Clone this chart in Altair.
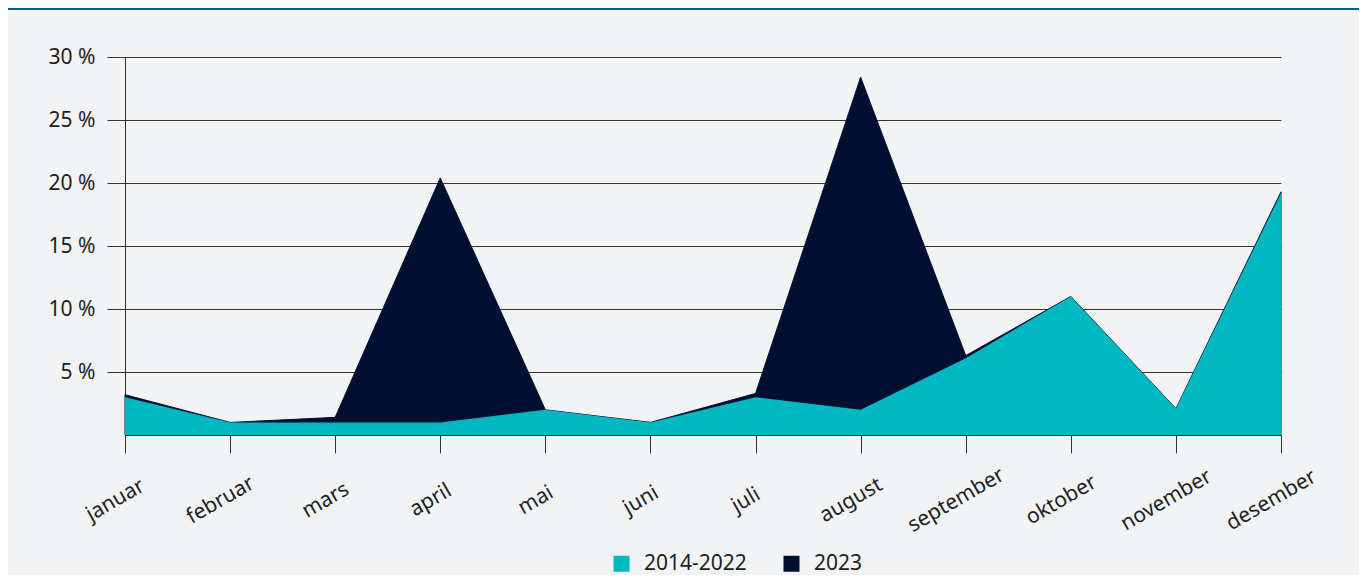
import altair as alt
import pandas as pd

months = ["januar", "februar", "mars", "april", "mai", "juni", "juli",
          "august", "september", "oktober", "november", "desember"]
hist = [3.0, 1.0, 1.0, 1.0, 2.0, 1.0, 3.0, 2.0, 6.1, 11.0, 2.1, 19.2]
y2023 = [3.2, 1.0, 1.4, 20.4, 2.0, 1.0, 3.3, 28.4, 6.3, 11.0, 2.1, 19.3]
series = ["2014-2022", "2023"]
colors = ["#00b8c2", "#000f30"]
y_ticks = [5, 10, 15, 20, 25, 30]

rows = []
for m, v in zip(months, hist):
    rows.append({"month": m, "value": v, "series": series[0]})
for m, v in zip(months, y2023):
    rows.append({"month": m, "value": v, "series": series[1]})
df = pd.DataFrame(rows)

FONT = "Noto Sans"
FS = 21
W, H = 1156, 378

x = alt.X("month:N", sort=months,
          scale=alt.Scale(type="point", padding=0),
          axis=alt.Axis(title=None, labelAngle=-30, labelAlign="center",
                        labelBaseline="middle", labelPadding=47, labelOffset=-10,
                        tickSize=18, labelOverlap=False, grid=False))
y = alt.Y("value:Q", scale=alt.Scale(domain=[0, 30], nice=False),
          axis=alt.Axis(title=None, values=y_ticks, labelExpr="datum.value + ' %'",
                        grid=True, tickSize=18, labelPadding=12))
color = alt.Color("series:N",
                  scale=alt.Scale(domain=series, range=colors),
                  legend=alt.Legend(title=None, orient="none", direction="horizontal",
                                    legendX=486, legendY=496, symbolType="square",
                                    symbolSize=256, symbolStrokeWidth=0,
                                    labelFontSize=FS, labelOffset=12,
                                    columnPadding=34, labelColor="#1e1e1e",
                                    labelFont=FONT))

dark = alt.Chart(df).transform_filter(alt.datum.series == "2023").mark_area(
    opacity=1, stroke="#000f30", strokeWidth=1
).encode(x=x, y=y, color=color)

teal = alt.Chart(df).transform_filter(alt.datum.series == "2014-2022").mark_area(
    opacity=1
).encode(x=x, y=y, color=color)

topline = alt.Chart(pd.DataFrame({"a": [1]})).mark_rule(
    color="#05607f", strokeWidth=2
).encode(x=alt.value(-117), x2=alt.value(W + 78), y=alt.value(-48))

chart = alt.layer(dark, teal, topline).properties(
    width=W, height=H,
    padding={"left": 117, "top": 49, "right": 78, "bottom": 140},
    autosize=alt.AutoSizeParams(type="none"),
).configure(
    background="#f2f3f5",
    font=FONT,
).configure_view(
    stroke=None
).configure_axis(
    labelFont=FONT, labelFontSize=FS, labelColor="#1e1e1e",
    domainColor="#333333", tickColor="#333333", gridColor="#333333",
    domainWidth=1, tickWidth=1, gridWidth=1,
)

chart.save("out.html", embed_options={"renderer": "svg", "actions": False})
